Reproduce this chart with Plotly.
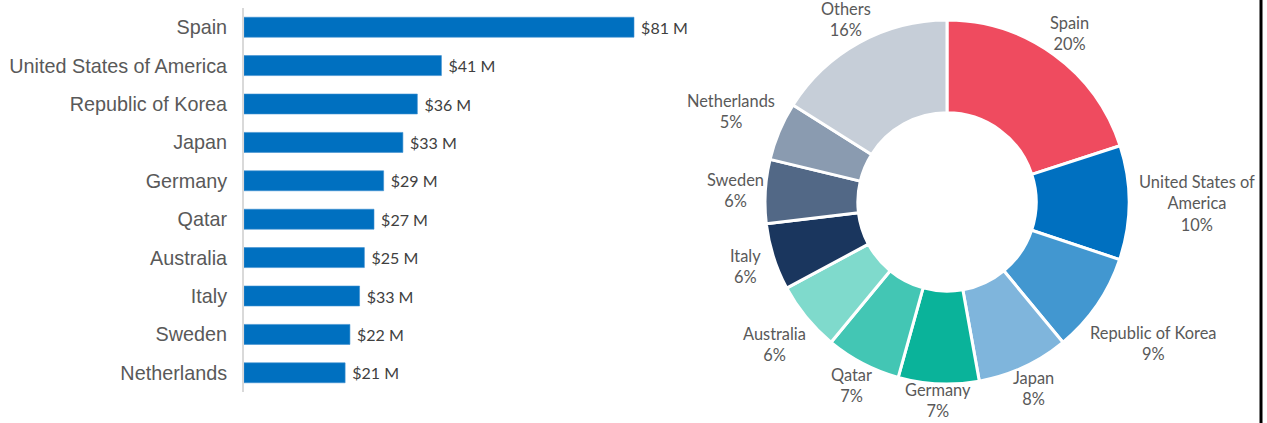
import math
import plotly.graph_objects as go

# ---------------- data ----------------
countries = ["Spain", "United States of America", "Republic of Korea", "Japan", "Germany",
             "Qatar", "Australia", "Italy", "Sweden", "Netherlands"]
bar_values = [81, 41, 36, 33, 29, 27, 25, 24, 22, 21]
bar_labels = ["$81 M", "$41 M", "$36 M", "$33 M", "$29 M", "$27 M", "$25 M", "$33 M", "$22 M", "$21 M"]

pie_labels = ["Spain", "United States of America", "Republic of Korea", "Japan", "Germany",
              "Qatar", "Australia", "Italy", "Sweden", "Netherlands", "Others"]
pie_label_text = ["Spain", "United States of<br>America", "Republic of Korea", "Japan", "Germany",
                  "Qatar", "Australia", "Italy", "Sweden", "Netherlands", "Others"]
pie_values = [81, 41, 36, 33, 29, 27, 25, 24, 23, 21, 65]
pie_colors = ["#EF4B5F", "#0070C0", "#4297D0", "#7FB5DC", "#0AB39A", "#43C6B4",
              "#7FDACC", "#1A365E", "#526886", "#8A9BB0", "#C6CED8"]

W, H = 1267, 423

fig = go.Figure()

# ---------------- bar chart ----------------
fig.add_trace(go.Bar(
    x=bar_values, y=countries, orientation="h",
    marker=dict(color="#0070C0", line=dict(color="#3D8FD0", width=0.6)),
    text=["\u00a0" + t for t in bar_labels], textposition="outside",
    textfont=dict(family="Lato", size=16, color="#404040"),
    constraintext="none", cliponaxis=False,
    hoverinfo="skip", xaxis="x", yaxis="y", showlegend=False,
))

bx0, bx1 = 244, 700
by_top, by_bot = 8, 392
fig.update_layout(
    xaxis=dict(domain=[bx0 / W, bx1 / W], range=[0, (bx1 - bx0) / ((634 - 244) / 81)],
               visible=False, fixedrange=True),
    yaxis=dict(domain=[1 - by_bot / H, 1 - by_top / H], autorange="reversed",
               showline=True, linecolor="#D9D9D9", linewidth=2, showgrid=False,
               ticks="", ticklabelstandoff=11, fixedrange=True,
               tickfont=dict(family="Liberation Sans, Arial", size=19.8, color="#595959")),
    bargap=0.48,
)

# ---------------- donut ----------------
cx, cy, R = 947, 202, 182
fig.add_trace(go.Pie(
    labels=pie_labels, values=pie_values, hole=0.49, sort=False, direction="clockwise",
    rotation=0, marker=dict(colors=pie_colors, line=dict(color="white", width=3)),
    textinfo="none", hoverinfo="label+percent", showlegend=False,
    domain=dict(x=[(cx - R) / W, (cx + R) / W], y=[1 - (cy + R) / H, 1 - (cy - R) / H]),
))


def box_dist(bx, by, w, h):
    """distance from donut centre to the nearest point of a box centred at (bx, by)"""
    qx = max(abs(bx) - w / 2, 0)
    qy = max(abs(by) - h / 2, 0)
    return math.hypot(qx, qy)


# labels placed just outside each slice, along its mid angle
total = sum(pie_values)
cum = 0
annotations = []
fs = 16.4
for lab, v in zip(pie_label_text, pie_values):
    mid = (cum + v / 2) / total * 2 * math.pi
    cum += v
    pct = round(v / total * 100)
    lines = lab.split("<br>") + [f"{pct}%"]
    w = max(len(s) for s in lines) * fs * 0.47
    h = len(lines) * fs * 1.3
    s, c = math.sin(mid), -math.cos(mid)
    gap = -6 + 12 * s * s
    d = R
    while box_dist(d * s, d * c, w, h) < R + gap:
        d += 0.5
    px = cx + d * s
    py = cy + d * c
    annotations.append(dict(
        x=px / W, y=1 - py / H, xref="paper", yref="paper",
        text="<br>".join(lines), showarrow=False, xanchor="center", yanchor="middle",
        align="center", font=dict(family="Lato", size=fs, color="#595959"),
    ))

fig.update_layout(
    width=W, height=H, margin=dict(l=0, r=0, t=0, b=0),
    paper_bgcolor="white", plot_bgcolor="white",
    annotations=annotations,
    shapes=[dict(type="line", xref="paper", yref="paper", x0=1261 / W, x1=1261 / W,
                 y0=0, y1=1, line=dict(color="black", width=3))],
)

fig.write_html("out.html", config={"displayModeBar": False},
               post_script="document.body.style.margin='0';document.body.style.overflow='hidden';")
